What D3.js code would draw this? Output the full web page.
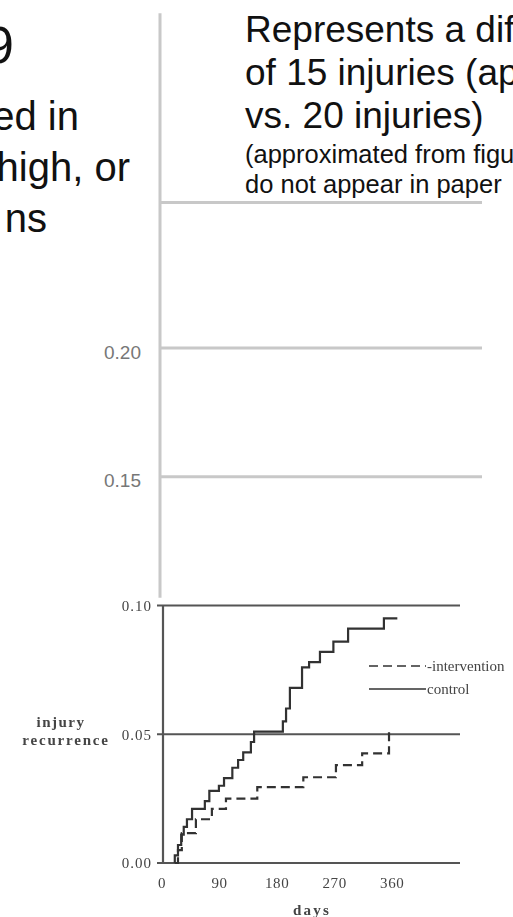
<!DOCTYPE html>
<meta charset="utf-8">
<style>
body { margin: 0; background: #fff; }
svg { display: block; }
.slide { font-family: "Liberation Sans", Arial, sans-serif; fill: #111; }
.grid line { stroke: #c8c8c8; stroke-width: 3px; }
.grid text { font-family: "Liberation Sans", Arial, sans-serif; font-size: 19px; fill: #777; }
.scan text { font-family: "Liberation Serif", "Times New Roman", serif; fill: #444; }
.frame { stroke: #555; stroke-width: 2.2px; fill: none; }
.curve { fill: none; stroke: #333; stroke-width: 2.2px; }
</style>
<body>
<svg width="513" height="917"></svg>
<script src="https://d3js.org/d3.v7.min.js"></script>
<script>
// step data: [days, recurrence]
var control = [[20,0],[20,0.003],[25,0.007],[30,0.011],[34,0.014],[39,0.017],[47,0.021],[67,0.024],[74,0.028],
  [89,0.030],[97,0.033],[110,0.037],[119,0.040],[127,0.043],[139,0.047],[144,0.051],[189,0.055],[194,0.060],
  [200,0.068],[219,0.076],[230,0.078],[247,0.082],[268,0.086],[291,0.091],[347,0.095],[368,0.095]];
var intervention = [[20,0],[25,0.005],[31,0.0116],[53,0.017],[78,0.021],[100,0.025],[149,0.0295],
  [221,0.0333],[272,0.038],[313,0.0426],[355,0.051],[358,0.051]];

var scanTicks = [0, 0.05, 0.10];
var scanTickLabels = ["0.00", "0.05", "0.10"];
var dayTicks = [0, 90, 180, 270, 360];
var gridTicks = [0.15, 0.20];
var gridTickLabels = ["0.15", "0.20"];
var gridTop = 0.2565, gridAxisTop = 0.33, gridAxisBottom = 0.103;

var leftLines = ["9", "ed in", "high, or", "ns"];
var noteLines = ["Represents a dif", "of 15 injuries (ap", "vs. 20 injuries)"];
var noteSmall = ["(approximated from figu", "do not appear in paper"];

var svg = d3.select("svg");

var defs = svg.append("defs");
defs.append("filter").attr("id", "soft")
  .append("feGaussianBlur").attr("stdDeviation", 0.45);

// one vertical scale shared by the slide gridlines and the scanned plot
var y = d3.scaleLinear().domain([0, 0.20]).range([863, 348]);
var x = d3.scaleLinear().domain([0, 466]).range([162, 460]);

// slide text
var left = svg.append("g").attr("class", "slide").attr("text-anchor", "end");
left.append("text").attr("x", 14).attr("y", 63).style("font-size", "52px").text(leftLines[0]);
left.selectAll(".l").data(leftLines.slice(1)).enter().append("text")
    .attr("x", function(d, i) { return [79, 130, 47][i]; })
    .attr("y", function(d, i) { return 130 + i * 51; })
    .style("font-size", "40px")
    .text(function(d) { return d; });

var note = svg.append("g").attr("class", "slide");
note.selectAll(".n").data(noteLines).enter().append("text")
    .attr("x", 245).attr("y", function(d, i) { return 42 + i * 43; })
    .style("font-size", "37px")
    .text(function(d) { return d; });
note.selectAll(".s").data(noteSmall).enter().append("text")
    .attr("x", 245).attr("y", function(d, i) { return 163 + i * 30; })
    .style("font-size", "25.5px")
    .text(function(d) { return d; });

// slide grey axis
var grid = svg.append("g").attr("class", "grid");
grid.append("line").attr("x1", 160).attr("x2", 160).attr("y1", y(gridAxisTop)).attr("y2", y(gridAxisBottom));
grid.selectAll(".g").data(gridTicks.concat([gridTop])).enter().append("line")
    .attr("x1", 160).attr("x2", 482)
    .attr("y1", function(d) { return y(d); }).attr("y2", function(d) { return y(d); });
grid.selectAll(".t").data(gridTicks).enter().append("text")
    .attr("x", 141).attr("text-anchor", "end")
    .attr("y", function(d) { return y(d) + 4; })
    .attr("dy", "0.35em")
    .text(function(d, i) { return gridTickLabels[i]; });

// scanned figure
var scan = svg.append("g").attr("class", "scan").attr("filter", "url(#soft)");
scan.selectAll(".h").data(scanTicks).enter().append("line").attr("class", "frame")
    .attr("x1", x(0) - 5).attr("x2", x(466))
    .attr("y1", function(d) { return y(d); }).attr("y2", function(d) { return y(d); });
scan.append("line").attr("class", "frame")
    .attr("x1", x(0) + 1).attr("x2", x(0) + 1).attr("y1", y(0.10)).attr("y2", y(0));

scan.selectAll(".yt").data(scanTicks).enter().append("text")
    .attr("x", 152).attr("text-anchor", "end")
    .attr("y", function(d) { return y(d); }).attr("dy", "0.35em")
    .style("font-size", "15px").style("letter-spacing", "1px")
    .text(function(d, i) { return scanTickLabels[i]; });
scan.selectAll(".xt").data(dayTicks).enter().append("text")
    .attr("x", function(d) { return x(d); }).attr("text-anchor", "middle")
    .attr("y", 888)
    .style("font-size", "15px").style("letter-spacing", "0.6px")
    .text(function(d) { return d; });

scan.append("text").attr("x", 312).attr("y", 915).attr("text-anchor", "middle")
    .style("font-size", "15px").style("font-weight", "bold").style("letter-spacing", "2.2px").text("days");
scan.append("text").attr("x", 61).attr("y", 727).attr("text-anchor", "middle")
    .style("font-size", "15px").style("font-weight", "bold").style("letter-spacing", "1.5px").text("injury");
scan.append("text").attr("x", 66).attr("y", 745).attr("text-anchor", "middle")
    .style("font-size", "15px").style("font-weight", "bold").style("letter-spacing", "1.8px").text("recurrence");

var line = d3.line()
    .x(function(d) { return x(d[0]); })
    .y(function(d) { return y(d[1]); })
    .curve(d3.curveStepAfter);

scan.append("path").datum(control).attr("class", "curve").attr("d", line);
scan.append("path").datum(intervention).attr("class", "curve")
    .style("stroke-dasharray", "9,5").attr("d", line);

// legend
var legend = [["intervention", "9,5"], ["control", null]];
var lg = scan.selectAll(".lg").data(legend).enter().append("g")
    .attr("transform", function(d, i) { return "translate(369," + (666 + i * 23) + ")"; });
lg.append("line").attr("class", "curve").attr("x1", 0).attr("x2", 57)
    .style("stroke-width", "1.6px")
    .style("stroke-dasharray", function(d) { return d[1]; });
lg.append("text").attr("x", 58).attr("dy", "0.32em")
    .style("font-size", "15px")
    .text(function(d, i) { return (i === 0 ? "-" : "") + d[0]; });
</script>
</body>
